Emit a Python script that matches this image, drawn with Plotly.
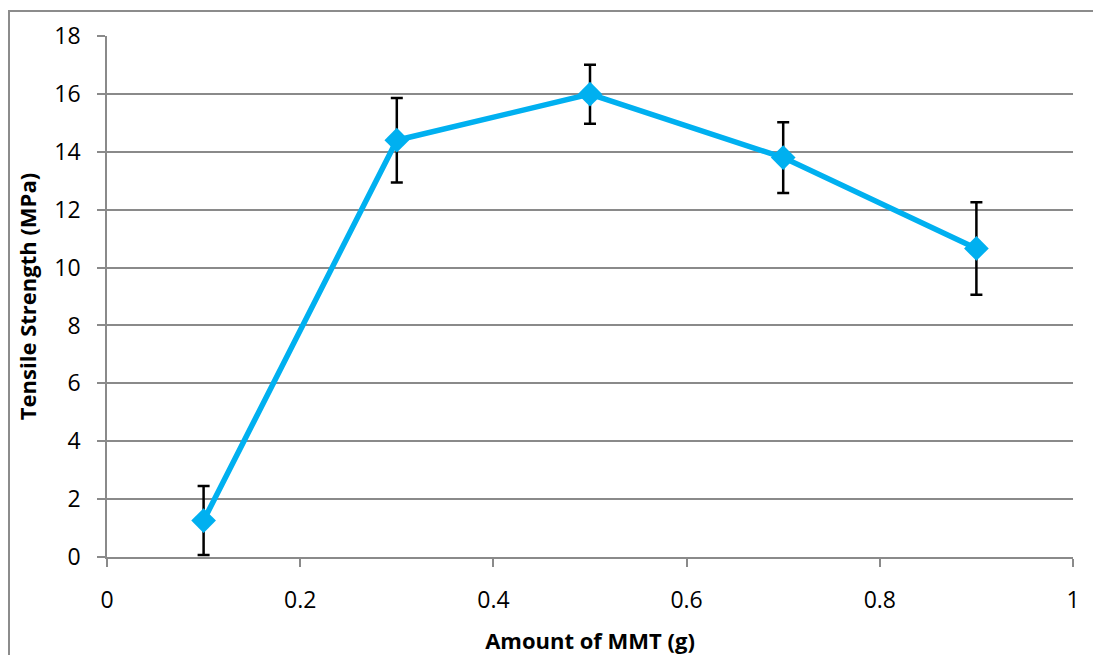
import plotly.graph_objects as go

# MMT loading (g) and measured tensile strength (MPa) with standard deviation
mmt_amount = [0.1, 0.3, 0.5, 0.7, 0.9]
tensile_strength = [1.26, 14.40, 15.99, 13.80, 10.66]
strength_sd = [1.19, 1.46, 1.02, 1.22, 1.60]

x_ticks = [0, 0.2, 0.4, 0.6, 0.8, 1]
y_ticks = [0, 2, 4, 6, 8, 10, 12, 14, 16, 18]

W, H = 1093, 655
L, R, T, B = 107, 20, 36, 98
pw, ph = W - L - R, H - T - B

grid = "#8a8a8a"
font_family = "Open Sans, Noto Sans, sans-serif"

fig = go.Figure()
fig.add_trace(go.Scatter(
    x=mmt_amount,
    y=tensile_strength,
    mode="lines+markers",
    line=dict(color="#00B0F0", width=5.5),
    marker=dict(symbol="diamond", size=19, color="#00B0F0"),
    error_y=dict(type="data", array=strength_sd, visible=True,
                 color="black", thickness=2.5, width=6),
    showlegend=False,
))

# outer chart frame
fig.add_shape(type="rect", xref="paper", yref="paper",
              x0=(9 - L) / pw, x1=(W + 5 - L) / pw,
              y0=(T + ph - H - 10) / ph, y1=(T + ph - 11) / ph,
              line=dict(color="#8c8c8c", width=2), fillcolor="rgba(0,0,0,0)",
              layer="below")

fig.update_layout(
    width=W, height=H,
    margin=dict(l=L, r=R, t=T, b=B, autoexpand=False),
    paper_bgcolor="white",
    plot_bgcolor="white",
    font=dict(family=font_family, color="black", size=23),
    xaxis=dict(
        range=[0, 1], tickvals=x_ticks, ticktext=[str(v) for v in x_ticks],
        showgrid=False, zeroline=False,
        showline=True, linecolor=grid, linewidth=1.5,
        ticks="outside", ticklen=8, tickcolor=grid, tickwidth=1.5,
        tickfont=dict(size=23),
        ticklabelstandoff=14,
        title=dict(text="<b>Amount of MMT (g)</b>", font=dict(size=22), standoff=20),
    ),
    yaxis=dict(
        range=[0, 18], tickvals=y_ticks,
        showgrid=True, gridcolor=grid, gridwidth=1.5,
        zeroline=False,
        showline=True, linecolor=grid, linewidth=1.5,
        ticks="outside", ticklen=8, tickcolor=grid, tickwidth=1.5,
        tickfont=dict(size=23),
        ticklabelstandoff=12,
        title=dict(text="<b>Tensile Strength (MPa)</b>", font=dict(size=22), standoff=12),
    ),
)

fig.write_html("out.html")
